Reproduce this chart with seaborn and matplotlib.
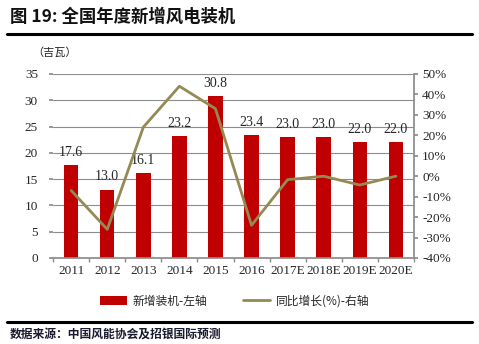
import numpy as np
import pandas as pd
import matplotlib
matplotlib.use("Agg")
import matplotlib.pyplot as plt
import seaborn as sns
from matplotlib.patches import Patch
from matplotlib.lines import Line2D

years = ["2011", "2012", "2013", "2014", "2015", "2016", "2017E", "2018E", "2019E", "2020E"]
capacity = [17.6, 13.0, 16.1, 23.2, 30.8, 23.4, 23.0, 23.0, 22.0, 22.0]
growth = [-7.0, -26.0, 24.0, 44.0, 33.0, -24.0, -1.7, 0.0, -4.3, 0.0]
left_ticks = [0, 5, 10, 15, 20, 25, 30, 35]
right_ticks = [-40, -30, -20, -10, 0, 10, 20, 30, 40, 50]

sns.set_theme(style="white")
plt.rcParams['font.family'] = ['Noto Sans CJK SC', 'DejaVu Sans']

BAR = "#C00000"
LINE = "#948A54"
SERIF = ['Liberation Serif', 'DejaVu Serif']

fig = plt.figure(figsize=(4.79, 3.44), dpi=100)
ax = fig.add_axes([0.111, 0.25, 0.753, 0.535])

df = pd.DataFrame({"year": years, "cap": capacity})
sns.barplot(data=df, x="year", y="cap", color=BAR, width=0.4, ax=ax,
            saturation=1, edgecolor="none")
ax.set_ylim(0, 35)
ax.set_yticks(left_ticks)
ax.set_xlim(-0.5, len(years) - 0.5)
ax.yaxis.grid(True, color="#8c8c8c", linewidth=0.8)
ax.set_axisbelow(True)
for s in ["top", "right", "left"]:
    ax.spines[s].set_visible(False)
ax.spines["bottom"].set_color("#8c8c8c")
ax.set_xlabel("")
ax.set_ylabel("")
ax.tick_params(axis="y", length=3, color="#8c8c8c", left=True, labelsize=9.5, pad=8)
ax.tick_params(axis="x", length=0, labelsize=9.5, pad=5)
for lbl in ax.get_xticklabels() + ax.get_yticklabels():
    lbl.set_family(SERIF)
# ticks between categories
ax.set_xticks(np.arange(-0.5, len(years)), minor=True)
ax.tick_params(axis="x", which="minor", length=3, color="#8c8c8c", bottom=True, direction="out")

for i, v in enumerate(capacity):
    ax.text(i, v + 1.2, f"{v:.1f}", ha="center", va="bottom", fontsize=10, family=SERIF)

ax2 = ax.twinx()
sns.lineplot(x=np.arange(len(years)), y=growth, color=LINE, linewidth=2, ax=ax2)
ax2.set_ylim(-40, 50)
ax2.set_yticks(right_ticks)
ax2.set_yticklabels([f"{t}%" for t in right_ticks])
for s in ["top", "left", "bottom"]:
    ax2.spines[s].set_visible(False)
ax2.spines["right"].set_color("#8c8c8c")
ax2.tick_params(axis="y", length=3, color="#8c8c8c", right=True, labelsize=9.5, pad=3)
for lbl in ax2.get_yticklabels():
    lbl.set_family(SERIF)
ax2.grid(False)

# title and decorations
fig.text(0.021, 0.952, "图 19: 全国年度新增风电装机", fontsize=12.5, fontweight="bold",
         ha="left", va="center", color="#111111")
fig.add_artist(Line2D([0.015, 0.985], [0.902, 0.902], color="black", linewidth=2.2))
fig.text(0.068, 0.848, "（吉瓦）", fontsize=8, ha="left", va="center", color="#222222")

handles = [Patch(facecolor=BAR, edgecolor="none"),
           Line2D([0], [0], color=LINE, linewidth=2)]
fig.legend(handles, ["新增装机-左轴", "同比增长(%)-右轴"], loc="center",
           bbox_to_anchor=(0.49, 0.125), ncol=2, frameon=False, fontsize=8.5,
           handlelength=2.3, columnspacing=3.0, handletextpad=0.5)

fig.add_artist(Line2D([0.015, 0.985], [0.063, 0.063], color="black", linewidth=2.2))
fig.text(0.021, 0.03, "数据来源：中国风能协会及招银国际预测", fontsize=8.5, fontweight="bold",
         fontstyle="italic", ha="left", va="center", color="#1a1a2e")

fig.savefig("out.png", dpi=100)
